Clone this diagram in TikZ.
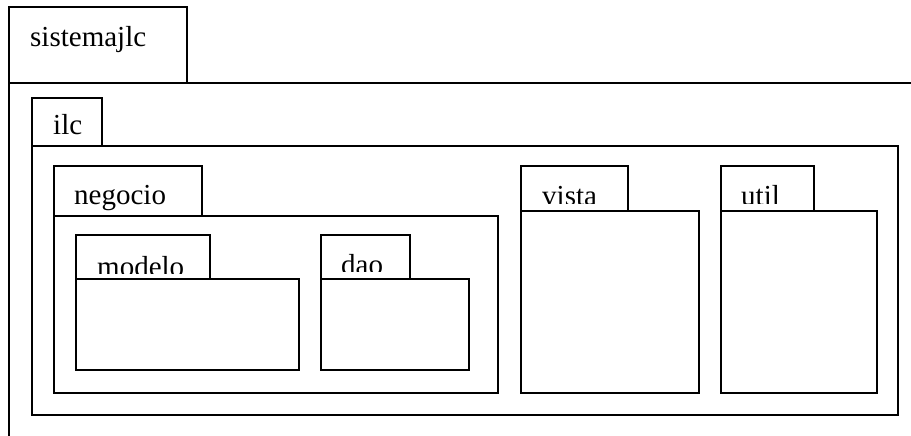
\documentclass[tikz,border=0pt]{standalone}
\usepackage{fontspec}
\setmainfont{Liberation Serif}
\begin{document}
\begin{tikzpicture}[x=1pt,y=-1pt,
  pkgline/.style={draw=black,line width=1.6pt},
  pkgbox/.style={pkgline,fill=white},
  lbl/.style={anchor=base west,inner sep=0pt,font=\fontsize{29}{33}\selectfont}]
\useasboundingbox (0,0) rectangle (911,436);
\clip (0,0) rectangle (911,436);

% package sistemajlc (body runs past the page edges)
\draw[pkgbox] (9,7) rectangle (187,83);
\node[lbl] (sistemajlc) at (30,47) {sistemajlc};
\draw[pkgline] (920,83) -- (9,83) -- (9,445);

% package ilc
\draw[pkgbox] (32,98) rectangle (102,146);
\node[lbl] (ilc) at (53,135) {ilc};
\draw[pkgbox] (32,146) rectangle (898,415);

% package negocio
\draw[pkgbox] (54,166) rectangle (202,216);
\node[lbl] (negocio) at (74,204) {negocio};
\draw[pkgbox] (54,216) rectangle (498,393);

% package modelo
\draw[pkgbox] (76,235) rectangle (210,279);
\begin{scope}
  \clip (76,235) rectangle (210,273);
  \node[lbl] (modelo) at (97,276) {modelo};
\end{scope}
\draw[pkgbox] (76,279) rectangle (299,370);

% package dao
\draw[pkgbox] (321,235) rectangle (410,279);
\begin{scope}
  \clip (321,235) rectangle (410,271);
  \node[lbl] (dao) at (341,274) {dao};
\end{scope}
\draw[pkgbox] (321,279) rectangle (469,370);

% package vista
\draw[pkgbox] (521,166) rectangle (628,211);
\begin{scope}
  \clip (521,166) rectangle (628,203);
  \node[lbl] (vista) at (542,205) {vista};
\end{scope}
\draw[pkgbox] (521,211) rectangle (699,393);

% package util
\draw[pkgbox] (721,166) rectangle (814,211);
\begin{scope}
  \clip (721,166) rectangle (814,203);
  \node[lbl] (util) at (741,205) {util};
\end{scope}
\draw[pkgbox] (721,211) rectangle (877,393);
\end{tikzpicture}
\end{document}
